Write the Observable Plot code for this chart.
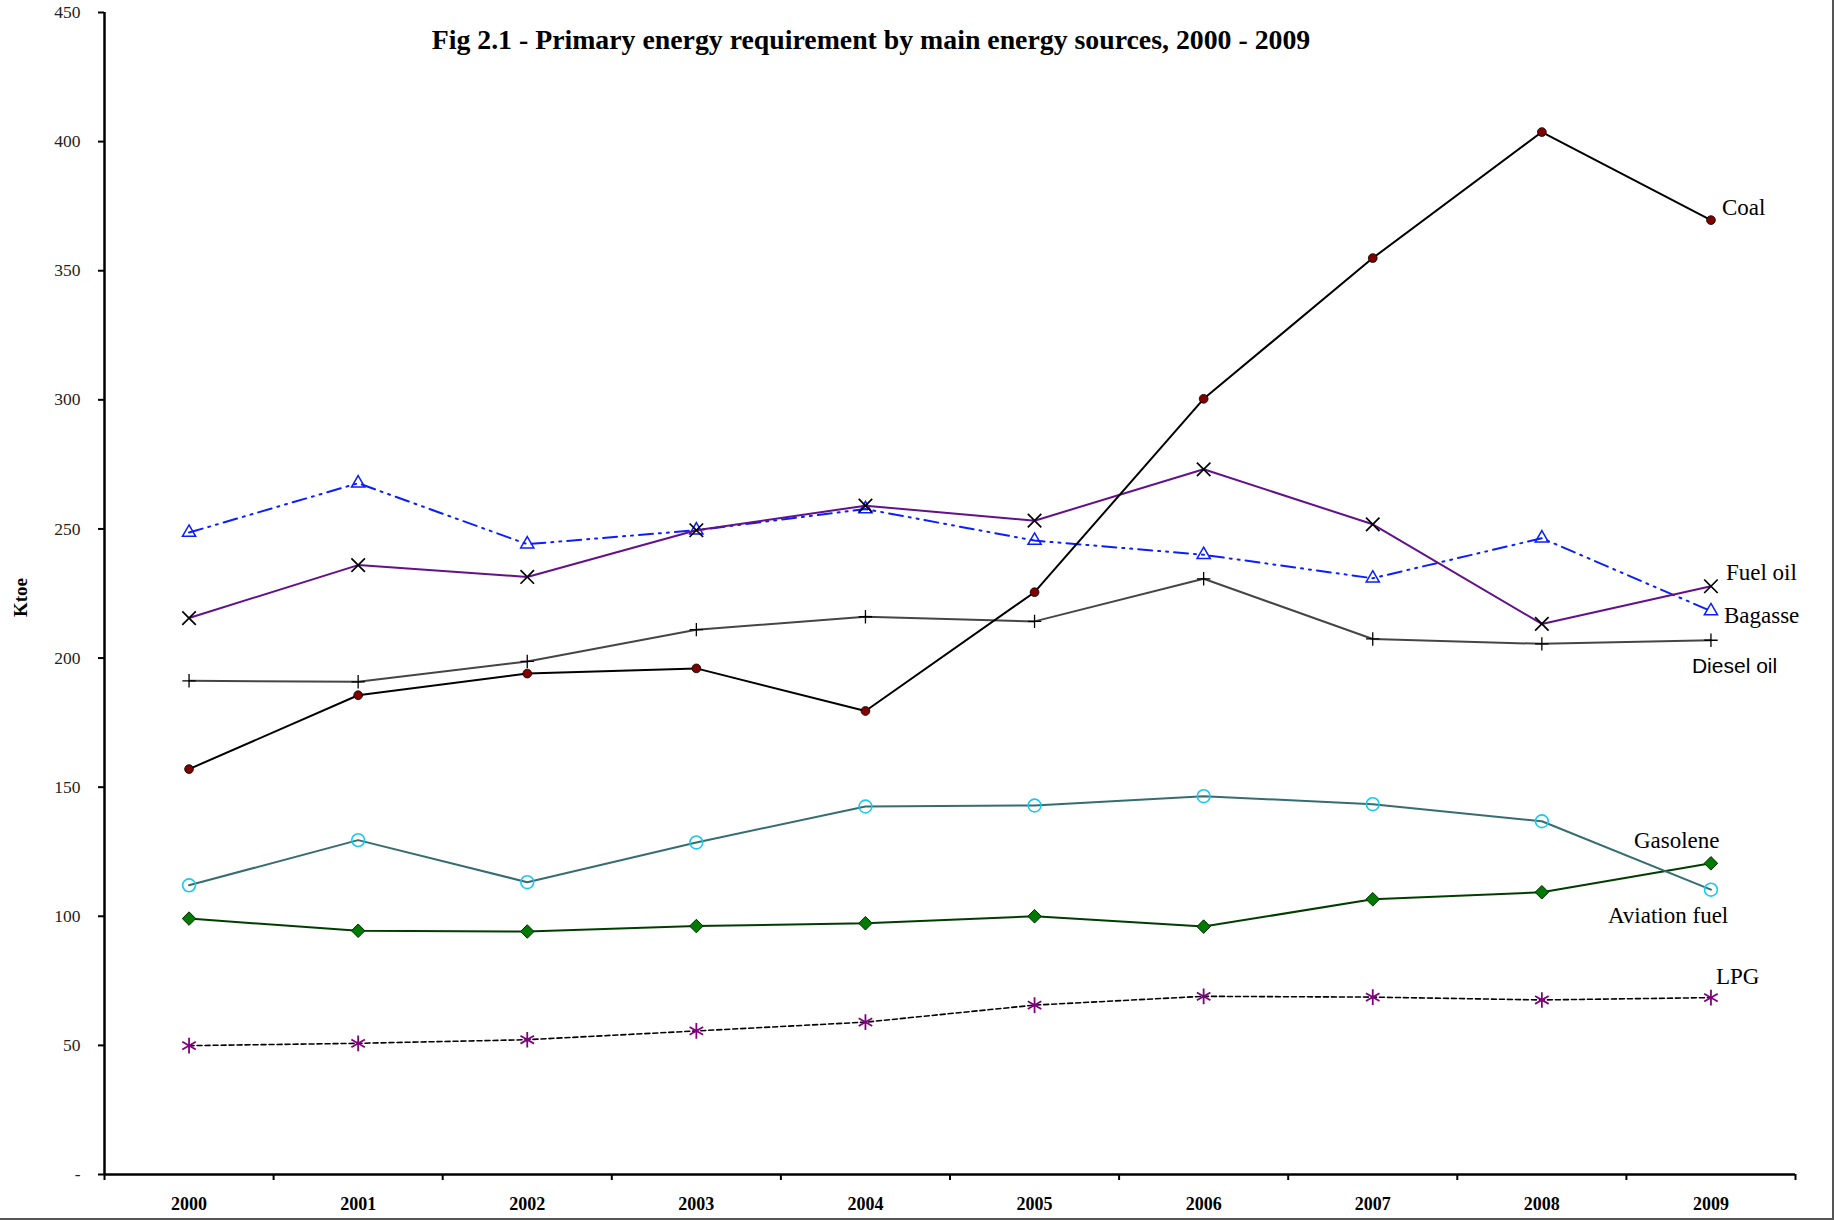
<!DOCTYPE html>
<html>
<head>
<meta charset="utf-8">
<script src="https://cdn.jsdelivr.net/npm/d3@7"></script>
<script src="https://cdn.jsdelivr.net/npm/@observablehq/plot@0.6"></script>
<style>
  html, body { margin: 0; padding: 0; background: white; }
  #wrap { position: relative; width: 1834px; height: 1220px; overflow: hidden; }
  #title { position: absolute; top: 24px; left: 871px; transform: translateX(-50%);
           white-space: nowrap; font-family: "Liberation Serif", serif; font-weight: bold;
           font-size: 27.8px; color: #000; }
  .edge { position: absolute; background: #555; }
</style>
</head>
<body>
<div id="wrap">
  <div id="chart"></div>
  <div id="title">Fig 2.1 - Primary energy requirement by main energy sources, 2000 - 2009</div>
  <div class="edge" style="right:0;top:0;width:2px;height:1220px;"></div>
  <div class="edge" style="left:0;bottom:0;width:1834px;height:2px;"></div>
</div>
<script>
const years = [2000, 2001, 2002, 2003, 2004, 2005, 2006, 2007, 2008, 2009];
const coal         = [157.0, 185.6, 194.0, 196.0, 179.5, 225.5, 300.4, 354.9, 403.7, 369.6];
const fuelOil      = [215.5, 236.0, 231.4, 249.5, 259.0, 253.2, 273.1, 251.8, 213.2, 227.8];
const bagasse      = [248.6, 267.7, 244.1, 249.5, 257.7, 245.5, 240.0, 230.9, 246.4, 218.2];
const dieselOil    = [191.2, 190.8, 198.7, 211.0, 216.0, 214.2, 230.7, 207.4, 205.5, 206.9];
const aviationFuel = [112.0, 129.5, 113.2, 128.6, 142.5, 142.9, 146.5, 143.4, 136.8, 110.3];
const gasolene     = [99.1, 94.4, 94.1, 96.2, 97.3, 100.0, 96.0, 106.6, 109.3, 120.5];
const lpg          = [49.9, 50.8, 52.2, 55.6, 59.0, 65.6, 69.0, 68.7, 67.6, 68.5];
const yTicks = [0, 50, 100, 150, 200, 250, 300, 350, 400, 450];
const yLabel = "Ktoe";

const seriesNames = ["Coal", "Fuel oil", "Bagasse", "Diesel oil", "Aviation fuel", "Gasolene", "LPG"];
const seriesValues = [coal, fuelOil, bagasse, dieselOil, aviationFuel, gasolene, lpg];
const table = seriesNames.flatMap((name, i) =>
  years.map((year, j) => ({series: name, year, value: seriesValues[i][j]})));
const of = name => table.filter(d => d.series === name);
const last = name => of(name).slice(-1);

const xDomain = [years[0] - 0.5, years[years.length - 1] + 0.5];
const bounds = d3.range(xDomain[0], xDomain[1] + 0.01, 1);

const serif = "Liberation Serif, Times New Roman, serif";
const sans = "Liberation Sans, Arial, sans-serif";

function label(name, opts) {
  return Plot.text(last(name), {x: "year", y: "value", text: "series", textAnchor: "start",
    fontFamily: serif, fontSize: 23, fill: "black", ...opts});
}

const chart = Plot.plot({
  width: 1834,
  height: 1220,
  marginLeft: 104,
  marginRight: 39,
  marginTop: 12,
  marginBottom: 46,
  style: {background: "transparent", fontFamily: serif, color: "black"},
  x: {type: "linear", domain: xDomain},
  y: {domain: [0, 450]},
  marks: [
    // axes
    Plot.axisY({ticks: yTicks, tickSize: 6, tickPadding: 18, fontSize: 17.5, fill: "#222",
      strokeWidth: 2, tickFormat: d => d === 0 ? "-" : String(d), label: null}),
    Plot.axisX({ticks: bounds, tickSize: 6, strokeWidth: 2, tickFormat: () => "", label: null}),
    Plot.axisX({ticks: years, tickSize: 0, tickPadding: 23, fontSize: 18, fontWeight: "bold",
      tickFormat: d => String(d), label: null}),
    Plot.ruleX([xDomain[0]], {stroke: "black", strokeWidth: 2.5}),
    Plot.ruleY([0], {stroke: "black", strokeWidth: 2.5}),
    Plot.text([yLabel], {frameAnchor: "left", textAnchor: "middle", dx: -84, dy: 4, rotate: -90,
      fontWeight: "bold", fontSize: 19, fontFamily: serif, fill: "black"}),

    // LPG
    Plot.line(of("LPG"), {x: "year", y: "value", stroke: "black", strokeWidth: 1.6, strokeDasharray: "5,3"}),
    Plot.dot(of("LPG"), {x: "year", y: "value", symbol: "asterisk", r: 7.4, stroke: "#800080", strokeWidth: 1.8}),
    // Gasolene
    Plot.line(of("Gasolene"), {x: "year", y: "value", stroke: "#003d00", strokeWidth: 2}),
    Plot.dot(of("Gasolene"), {x: "year", y: "value", symbol: "diamond2", r: 6.1, fill: "#007a00", stroke: "#002a00", strokeWidth: 1}),
    // Aviation fuel
    Plot.line(of("Aviation fuel"), {x: "year", y: "value", stroke: "#356d70", strokeWidth: 2}),
    Plot.dot(of("Aviation fuel"), {x: "year", y: "value", symbol: "circle", r: 6.4, fill: "none", stroke: "#19c8f0", strokeWidth: 1.6}),
    // Diesel oil
    Plot.line(of("Diesel oil"), {x: "year", y: "value", stroke: "#454545", strokeWidth: 2}),
    Plot.dot(of("Diesel oil"), {x: "year", y: "value", symbol: "plus", r: 4.4, stroke: "black", strokeWidth: 1.3}),
    // Bagasse
    Plot.line(of("Bagasse"), {x: "year", y: "value", stroke: "#0a1eff", strokeWidth: 2, strokeDasharray: "14,6,2,6,2,6"}),
    Plot.dot(of("Bagasse"), {x: "year", y: "value", symbol: "triangle2", r: 6.3, fill: "none", stroke: "#0a1eff", strokeWidth: 1.5}),
    // Fuel oil
    Plot.line(of("Fuel oil"), {x: "year", y: "value", stroke: "#64108a", strokeWidth: 2}),
    Plot.dot(of("Fuel oil"), {x: "year", y: "value", symbol: "times", r: 6.2, stroke: "black", strokeWidth: 1.7}),
    // Coal
    Plot.line(of("Coal"), {x: "year", y: "value", stroke: "black", strokeWidth: 2}),
    Plot.dot(of("Coal"), {x: "year", y: "value", symbol: "circle", r: 4.4, fill: "#800000", stroke: "black", strokeWidth: 0.8}),

    // series labels
    label("Coal", {dx: 11, dy: -12}),
    label("Fuel oil", {dx: 15, dy: -14}),
    label("Bagasse", {dx: 13, dy: 5}),
    label("Diesel oil", {dx: -19, dy: 26, fontFamily: sans, fontSize: 21}),
    label("Gasolene", {dx: -77, dy: -23}),
    label("Aviation fuel", {dx: -103, dy: 26}),
    label("LPG", {dx: 5, dy: -21})
  ]
});
document.getElementById("chart").appendChild(chart);
</script>
</body>
</html>
